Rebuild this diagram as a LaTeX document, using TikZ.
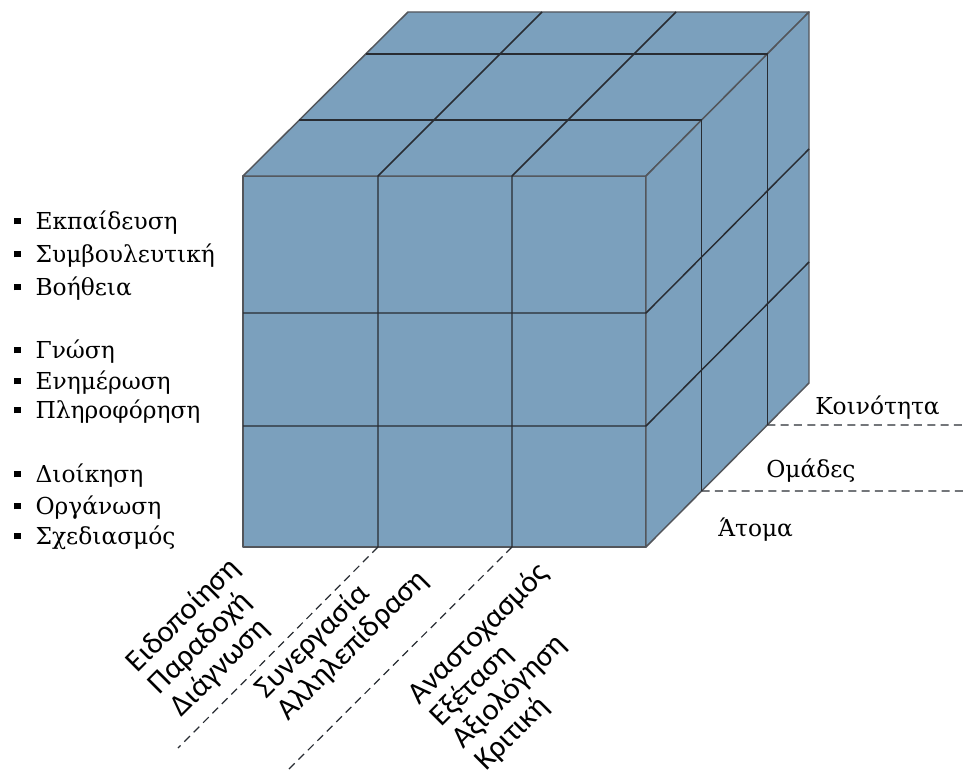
\documentclass[tikz,border=0pt]{standalone}
\usepackage{fontspec}
\setmainfont{DejaVu Serif}
\newfontfamily\phasefont{Carlito}
\usetikzlibrary{positioning}
\definecolor{cubeblue}{RGB}{123,160,189}
\definecolor{gridline}{RGB}{40,44,50}
\newcommand{\sqb}{\raisebox{0.2em}{\rule{5pt}{5pt}}\hspace{11pt}}

\begin{document}
\begin{tikzpicture}[x=0.75pt,y=-0.75pt]
  	\tikzstyle{face}=[fill=cubeblue, draw=gridline!80, line width=1.1pt, line join=round]
  	\tikzstyle{grid}=[draw=gridline, line width=1.1pt]
  	\tikzstyle{level}=[draw=gridline, dash pattern=on 6pt off 4pt, line width=0.9pt]
  	\tikzstyle{item}=[anchor=base west, inner sep=0pt, font=\fontsize{17.5}{21}\selectfont]
  	\tikzstyle{phase}=[anchor=north west, inner sep=0pt, rotate=45, align=left, font=\phasefont\fontsize{23}{23.5}\selectfont]
  	\useasboundingbox (0,0) rectangle (966,774);
  	% cube corners
  	\coordinate (f1) at (243,176);
  	\coordinate (f2) at (646,176);
  	\coordinate (f3) at (646,547);
  	\coordinate (f4) at (243,547);
  	\coordinate (b1) at (408,12);
  	\coordinate (b2) at (809,12);
  	\coordinate (b3) at (809,383);
  	\path[face] (f1) -- (f2) -- (f3) -- (f4) -- cycle;
  	\path[face] (f1) -- (b1) -- (b2) -- (f2) -- cycle;
  	\path[face] (f2) -- (b2) -- (b3) -- (f3) -- cycle;
  	% columns: front and top
  	\foreach \x [count=\i] in {378,512} {
  		\coordinate (c\i) at (\x,547);
  		\draw[grid] (c\i) -- (\x,176) -- ++(164,-164);
  	}
  	% rows: front and right
  	\foreach \y in {313,426}
  		\draw[grid] (243,\y) -- (646,\y) -- ++(163,-164);
  	% depth layers: top and right
  	\foreach \d [count=\i] in {0.341,0.744} {
  		\coordinate (d\i) at ({646+163*\d},{547-164*\d});
  		\draw[grid] ({243+165*\d},{176-164*\d}) -- ({646+163*\d},{176-164*\d}) -- (d\i);
  	}
  	% level lines
  	\coordinate (e1) at (966,491);
  	\coordinate (e2) at (966,425);
  	\coordinate (g1) at (178,748);
  	\coordinate (g2) at (288,770);
  	\path (d1) edge[level] (e1)
  	(d2) edge[level] (e2)
  	(c1) edge[level] (g1)
  	(c2) edge[level] (g2);
  	
  	\foreach \txt/\yb [count=\i] in {Εκπαίδευση/229, Συμβουλευτική/262, Βοήθεια/295,
  		Γνώση/358, Ενημέρωση/389, Πληροφόρηση/418,
  		Διοίκηση/482, Οργάνωση/514, Σχεδιασμός/544}
  		\node[item] (l\i) at (14,\yb) {\sqb\txt};
  	
  	\node[item] (kin) at (815,414) {Κοινότητα};
  	\node[item] (omad) at (766,477) {Ομάδες};
  	\node[item] (atom) at (718,536) {Άτομα};
  	
  	\node[phase] (p1) at (122,658) {Ειδοποίηση\\Παραδοχή\\Διάγνωση};
  	\node[phase] (p2) at (251,684) {Συνεργασία\\Αλληλεπίδραση};
  	\node[phase] (p3) at (404,690) {Αναστοχασμός\\Εξέταση\\Αξιολόγηση\\Κριτική};
\end{tikzpicture}
\end{document}
